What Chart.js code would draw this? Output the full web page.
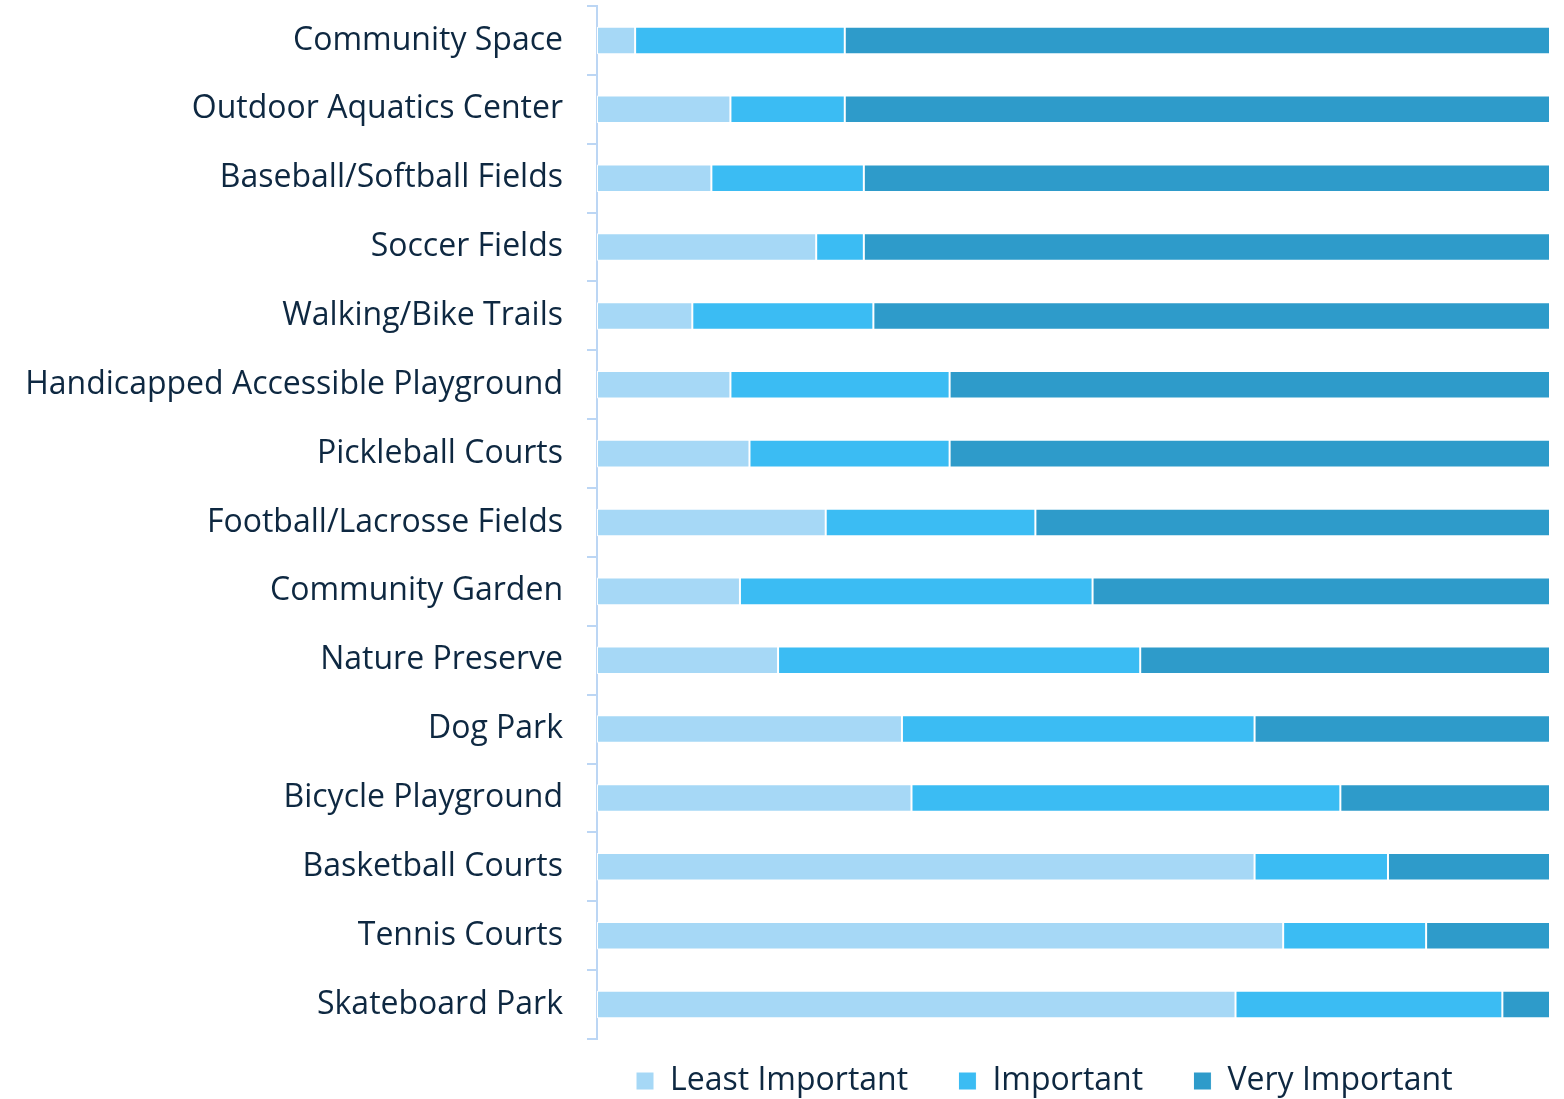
<!DOCTYPE html>
<html>
<head>
<meta charset="utf-8">
<script src="https://cdn.jsdelivr.net/npm/chart.js@4.4.1/dist/chart.umd.min.js"></script>
<style>
  html, body { margin: 0; padding: 0; background: #fff; }
  #wrap { position: relative; width: 1564px; height: 1099px; }
</style>
</head>
<body>
<div id="wrap"><canvas id="chart"></canvas></div>
<script>
'use strict';

// ── Data (percent of respondents) ───────────────────────────────────────────
var categories = [
  'Community Space', 'Outdoor Aquatics Center', 'Baseball/Softball Fields',
  'Soccer Fields', 'Walking/Bike Trails', 'Handicapped Accessible Playground',
  'Pickleball Courts', 'Football/Lacrosse Fields', 'Community Garden',
  'Nature Preserve', 'Dog Park', 'Bicycle Playground', 'Basketball Courts',
  'Tennis Courts', 'Skateboard Park'
];
var leastImportant = [4, 14, 12, 23, 10, 14, 16, 24, 15, 19, 32, 33, 69, 72, 67];
var important      = [22, 12, 16, 5, 19, 23, 21, 22, 37, 38, 37, 45, 14, 15, 28];
var veryImportant  = [74, 74, 72, 72, 71, 63, 63, 54, 48, 43, 31, 22, 17, 13, 5];

var seriesNames  = ['Least Important', 'Important', 'Very Important'];
var seriesColors = ['#A6D8F6', '#3BBCF3', '#2E9BCA'];
var textColor    = '#0E2841';
var axisColor    = '#BCD6F4';
var FONT         = '"Open Sans", Lato, sans-serif';

function ds(i, values) {
  return {
    label          : seriesNames[i],
    data           : values,
    backgroundColor: seriesColors[i],
    borderColor    : '#ffffff',
    borderWidth    : 1,
    borderSkipped  : false,
    categoryPercentage: 1,
    barPercentage  : 0.4
  };
}

// nudge the legend a little to the right, like the original
var legendShift = {
  id: 'legendShift',
  afterLayout: function (chart) {
    if (!chart.legend) return;
    chart.legend.left  += 13;
    chart.legend.right += 13;
  }
};

new Chart(document.getElementById('chart').getContext('2d'), {
  type: 'bar',
  data: {
    labels: categories,
    datasets: [
      ds(0, leastImportant),
      ds(1, important),
      ds(2, veryImportant)
    ]
  },
  options: {
    indexAxis          : 'y',
    responsive         : true,
    maintainAspectRatio: false,
    animation          : false,
    layout: { padding: { left: 0, right: 14, top: 6, bottom: -8 } },
    plugins: {
      tooltip: { enabled: false },
      legend : {
        position: 'bottom',
        align   : 'start',
        fullSize: false,
        labels: {
          color    : textColor,
          boxWidth : 18,
          boxHeight: 18,
          padding  : 26,
          font     : { family: FONT, size: 32 },
          // wider gap between legend entries (as in the original)
          generateLabels: function (chart) {
            var items = Chart.defaults.plugins.legend.labels.generateLabels(chart);
            items.forEach(function (it, i) {
              if (i < items.length - 1) it.text = it.text + '\u2002 ';
            });
            return items;
          }
        }
      }
    },
    scales: {
      x: {
        stacked: true,
        min    : 0,
        max    : 100,
        display: false
      },
      y: {
        stacked: true,
        offset : true,
        afterFit: function (scale) {
          // fixed axis width, no extra vertical label padding
          scale.width = 597;
          scale.paddingTop = 0;
          scale.paddingBottom = 0;
        },
        border : { display: true, color: axisColor, width: 2 },
        grid   : {
          display        : true,
          drawOnChartArea: false,
          drawTicks      : true,
          tickLength     : 10,
          color          : axisColor,
          lineWidth      : 2,
          offset         : true
        },
        ticks  : {
          color  : textColor,
          padding: 24,
          font   : { family: FONT, size: 32 }
        }
      }
    }
  },
  plugins: [legendShift]
});
</script>
</body>
</html>
